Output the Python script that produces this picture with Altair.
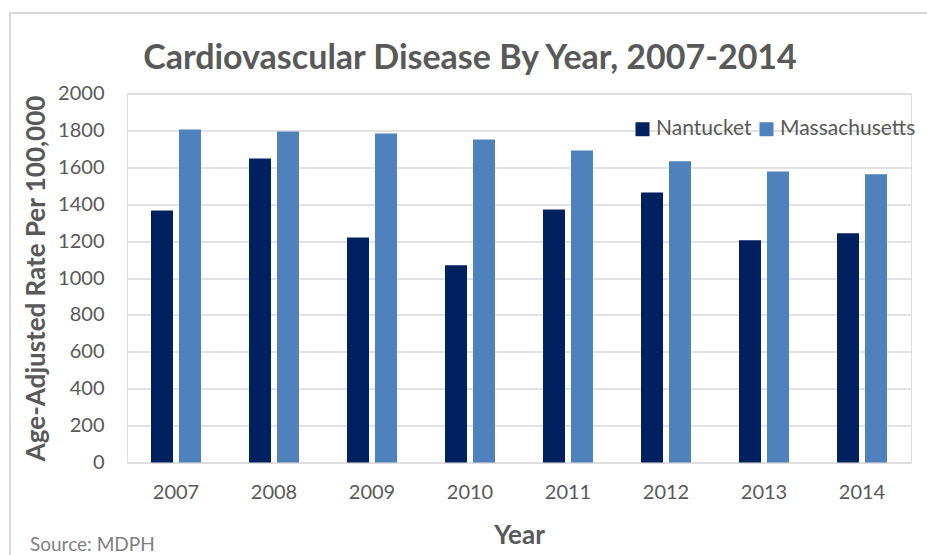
import altair as alt
import pandas as pd

# Age-adjusted cardiovascular disease rates per 100,000
years = ["2007", "2008", "2009", "2010", "2011", "2012", "2013", "2014"]
nantucket = [1366, 1648, 1220, 1069, 1371, 1463, 1205, 1243]
massachusetts = [1805, 1794, 1783, 1751, 1691, 1633, 1577, 1563]
series = ["Nantucket", "Massachusetts"]
colors = ["#002060", "#4F81BD"]
y_ticks = list(range(0, 2001, 200))

rows = []
for i, yr in enumerate(years):
    rows.append({"Year": yr, "Area": series[0], "Rate": nantucket[i]})
    rows.append({"Year": yr, "Area": series[1], "Rate": massachusetts[i]})
df = pd.DataFrame(rows)

FONT = "Lato"
TEXT = "#595959"
GRID = "#D9D9D9"

W, H = 784, 369
PAD_L, PAD_T = 127, 93.5

bars = alt.Chart(df).mark_bar().encode(
    x=alt.X(
        "Year:N",
        sort=years,
        scale=alt.Scale(paddingInner=0.49, paddingOuter=0.245),
        axis=alt.Axis(
            title="Year", labelAngle=0, ticks=False, domain=False,
            labelFont=FONT, labelFontSize=20, labelColor=TEXT, labelPadding=20,
            titleFont=FONT, titleFontSize=26, titleFontWeight="bold",
            titleColor=TEXT, titlePadding=20,
        ),
    ),
    xOffset=alt.XOffset("Area:N", sort=series,
                        scale=alt.Scale(paddingInner=0.214, paddingOuter=0)),
    y=alt.Y(
        "Rate:Q",
        scale=alt.Scale(domain=[0, 2000], nice=False),
        axis=alt.Axis(
            title="Age-Adjusted Rate Per 100,000", values=y_ticks, format="d",
            ticks=False, domain=False, grid=True, gridColor=GRID, gridWidth=1.5,
            labelFont=FONT, labelFontSize=20, labelColor=TEXT, labelPadding=23,
            titleFont=FONT, titleFontSize=26, titleFontWeight="bold",
            titleColor=TEXT, titlePadding=8,
        ),
    ),
    color=alt.Color(
        "Area:N", sort=series,
        scale=alt.Scale(domain=series, range=colors),
        legend=alt.Legend(
            title=None, orient="none", direction="horizontal",
            legendX=505, legendY=25, symbolType="square", symbolSize=196,
            symbolStrokeWidth=0, labelFont=FONT, labelFontSize=21,
            labelColor=TEXT, labelOffset=3, columnPadding=4,
        ),
    ),
)

# Light frame around the whole chart area
frame = alt.Chart().mark_rect(fill=None, stroke=GRID, strokeWidth=2).encode(
    x=alt.value(10 - PAD_L), x2=alt.value(W + 60),
    y=alt.value(13 - PAD_T), y2=alt.value(H + 120),
)

source = alt.Chart().mark_text(
    text="Source: MDPH", font=FONT, fontSize=19, color="#808080",
    align="left", baseline="alphabetic",
).encode(x=alt.value(30 - PAD_L), y=alt.value(551 - PAD_T))

chart = alt.layer(frame, bars, source).properties(
    width=W, height=H,
    title=alt.TitleParams(
        "Cardiovascular Disease By Year, 2007-2014",
        font=FONT, fontSize=34, fontWeight="bold", color=TEXT,
        anchor="middle", dx=-49, dy=82, offset=18,
    ),
    autosize=alt.AutoSizeParams(type="none"),
    padding={"left": PAD_L, "top": PAD_T, "right": 927 - PAD_L - W,
             "bottom": 555 - PAD_T - H},
).configure_view(stroke=None).configure(background="white")

chart.save("out.html", embed_options={"renderer": "svg", "actions": False})
